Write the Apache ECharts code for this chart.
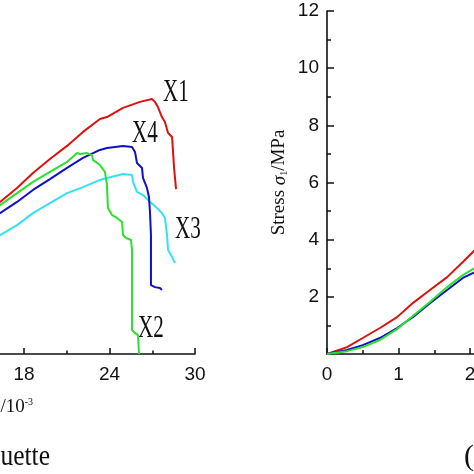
<!DOCTYPE html>
<html><head><meta charset="utf-8">
<script src="https://cdn.jsdelivr.net/npm/echarts@6/dist/echarts.min.js"></script>
<style>html,body{margin:0;padding:0;background:#fff;overflow:hidden;}#c{position:absolute;left:-326px;top:0;width:1100px;height:474px;}</style>
</head><body><div id="c"></div>
<script>
// Left panel: strain (x10^-3) vs stress (MPa)
const x1Strain = [15.0, 16.32, 17.51, 18.63, 19.82, 21.02, 22.14, 23.33, 23.82, 24.95, 26.14, 26.98, 27.19, 27.40, 27.68, 27.89, 28.11, 28.39, 28.46, 28.53, 28.67];
const x1Stress = [4.78, 5.32, 5.81, 6.33, 6.82, 7.28, 7.77, 8.22, 8.29, 8.61, 8.82, 8.92, 8.82, 8.64, 8.29, 8.12, 7.73, 7.59, 7.07, 6.51, 5.77];
const x2Strain = [15.0, 16.32, 17.51, 18.63, 19.82, 21.02, 21.72, 21.93, 22.42, 22.77, 22.84, 23.33, 23.68, 23.82, 23.89, 24.18, 24.53, 24.88, 24.95, 25.16, 25.51, 25.58, 25.58, 25.79, 26.0, 26.07];
const x2Stress = [4.75, 5.21, 5.63, 6.02, 6.37, 6.72, 7.03, 7.00, 7.03, 6.96, 6.79, 6.61, 6.37, 5.91, 5.11, 4.86, 4.76, 4.62, 4.16, 4.06, 3.99, 3.64, 0.84, 0.73, 0.66, 0.0];
const x3Strain = [15.0, 16.32, 17.51, 18.63, 19.82, 21.02, 22.14, 23.33, 23.82, 24.95, 25.58, 25.65, 25.93, 26.35, 26.70, 27.33, 27.68, 27.89, 28.04, 28.11, 28.39, 28.60];
const x3Stress = [3.78, 4.16, 4.51, 4.93, 5.28, 5.63, 5.84, 6.09, 6.16, 6.30, 6.26, 6.02, 5.67, 5.56, 5.39, 5.11, 4.93, 4.76, 4.16, 3.64, 3.39, 3.18];
const x4Strain = [15.0, 16.32, 17.51, 18.63, 19.82, 21.02, 22.14, 23.33, 23.82, 24.95, 25.58, 25.79, 25.93, 26.28, 26.35, 26.63, 26.77, 26.84, 26.91, 26.91, 27.19, 27.54, 27.68];
const x4Stress = [4.49, 4.93, 5.32, 5.74, 6.12, 6.51, 6.86, 7.14, 7.21, 7.28, 7.24, 7.07, 6.68, 6.51, 6.16, 5.81, 5.49, 4.97, 4.16, 2.41, 2.34, 2.31, 2.24];
// Right panel
const rStrain = [0, 0.28, 0.50, 0.74, 0.98, 1.20, 1.44, 1.68, 1.90, 2.04, 2.3];
const rRed   = [0, 0.24, 0.56, 0.91, 1.29, 1.78, 2.24, 2.69, 3.22, 3.57, 4.2];
const rBlue  = [0, 0.14, 0.31, 0.56, 0.91, 1.29, 1.78, 2.24, 2.66, 2.83, 3.14];
const rGreen = [0, 0.10, 0.24, 0.49, 0.87, 1.33, 1.82, 2.34, 2.76, 2.97, 3.36];
const rightYTicks = [2, 4, 6, 8, 10, 12];

const OFF = 326; // the visible window starts this many pixels into the chart
const pair = (xs, ys) => xs.map((x, i) => [x, ys[i]]);
const axisLine = {lineStyle: {color: '#111', width: 1.6}};
const tickFont = {fontFamily: 'Liberation Sans', fontSize: 19, color: '#111'};
const lineSeries = (name, data, color, xi, yi) => ({
  name, type: 'line', data, xAxisIndex: xi, yAxisIndex: yi, symbol: 'none',
  lineStyle: {color, width: 2}, itemStyle: {color}, animation: false, z: 3
});
const serifLabel = (text, x, y) => ({
  type: 'text', x: x + OFF, y, scaleX: 0.68,
  style: {text, fontFamily: 'Liberation Serif', fontSize: 31, fill: '#111', textVerticalAlign: 'middle'}
});

const chart = echarts.init(document.getElementById('c'), null, {renderer: 'canvas'});
chart.setOption({
  backgroundColor: '#fff',
  animation: false,
  grid: [
    {left: OFF - 232.5, top: 11, width: 427.5, height: 343},
    {left: OFF + 327, top: 11, width: 357.5, height: 343}
  ],
  xAxis: [
    {gridIndex: 0, type: 'value', min: 0, max: 30, interval: 6,
     axisLine, splitLine: {show: false},
     axisTick: {inside: true, length: 6, lineStyle: {color: '#111', width: 1.5}},
     minorTick: {show: true, splitNumber: 2, length: 3.5, lineStyle: {color: '#111', width: 1.5}},
     axisLabel: Object.assign({margin: 11}, tickFont)},
    {gridIndex: 1, type: 'value', min: 0, max: 5, interval: 1,
     axisLine, splitLine: {show: false},
     axisTick: {inside: true, length: 6, lineStyle: {color: '#111', width: 1.5}},
     minorTick: {show: true, splitNumber: 2, length: 4, lineStyle: {color: '#111', width: 1.5}},
     axisLabel: Object.assign({margin: 11}, tickFont)}
  ],
  yAxis: [
    {gridIndex: 0, type: 'value', min: 0, max: 12, interval: 2, show: false},
    {gridIndex: 1, type: 'value', min: 0, max: 12, interval: 2,
     axisLine: {show: true, lineStyle: {color: '#111', width: 1.6}}, splitLine: {show: false},
     axisTick: {show: true, inside: true, length: 7, lineStyle: {color: '#111', width: 1.5}},
     minorTick: {show: true, splitNumber: 2, length: 4, lineStyle: {color: '#111', width: 1.5}},
     axisLabel: Object.assign({margin: 8, formatter: v => rightYTicks.includes(v) ? String(v) : ''}, tickFont),
     name: 'Stress {i|σ}{s|1}/MPa', nameLocation: 'middle', nameGap: 38, nameRotate: 90,
     nameTextStyle: {fontFamily: 'Liberation Serif', fontSize: 19, color: '#111',
       rich: {i: {fontFamily: 'Liberation Serif', fontStyle: 'italic', fontSize: 19, color: '#111'},
              s: {fontFamily: 'Liberation Serif', fontSize: 10, color: '#111', verticalAlign: 'bottom', padding: [8, 0, 0, 0]}}}}
  ],
  series: [
    lineSeries('X1', pair(x1Strain, x1Stress), '#dd1111', 0, 0),
    lineSeries('X3', pair(x3Strain, x3Stress), '#33e2f2', 0, 0),
    lineSeries('X4', pair(x4Strain, x4Stress), '#1111c4', 0, 0),
    lineSeries('X2', pair(x2Strain, x2Stress), '#2ee02e', 0, 0),
    lineSeries('R1', pair(rStrain, rRed), '#dd1111', 1, 1),
    lineSeries('R4', pair(rStrain, rBlue), '#1111c4', 1, 1),
    lineSeries('R2', pair(rStrain, rGreen), '#2ee02e', 1, 1)
  ],
  graphic: [
    serifLabel('X1', 163, 93),
    serifLabel('X4', 132, 134),
    serifLabel('X3', 175, 230),
    serifLabel('X2', 138, 329),
    {type: 'text', x: OFF + 33, y: 407,
     style: {text: 'Strain ε{s|1}/10{p|-3}', fontFamily: 'Liberation Serif', fontSize: 19, fill: '#111',
             textAlign: 'right', textVerticalAlign: 'middle',
             rich: {s: {fontSize: 10, fontFamily: 'Liberation Serif', fill: '#111'},
                    p: {fontSize: 10, fontFamily: 'Liberation Serif', fill: '#111', verticalAlign: 'top', padding: [0, 0, 8, 0]}}}},
    {type: 'text', x: OFF + 50, y: 457, scaleX: 0.85,
     style: {text: '(a) Silhouette', fontFamily: 'Liberation Serif', fontSize: 30, fill: '#111',
             textAlign: 'right', textVerticalAlign: 'middle'}},
    {type: 'text', x: OFF + 464, y: 457,
     style: {text: '(b) Silhouette', fontFamily: 'Liberation Serif', fontSize: 30, fill: '#111',
             textAlign: 'left', textVerticalAlign: 'middle'}}
  ]
});
</script></body></html>
